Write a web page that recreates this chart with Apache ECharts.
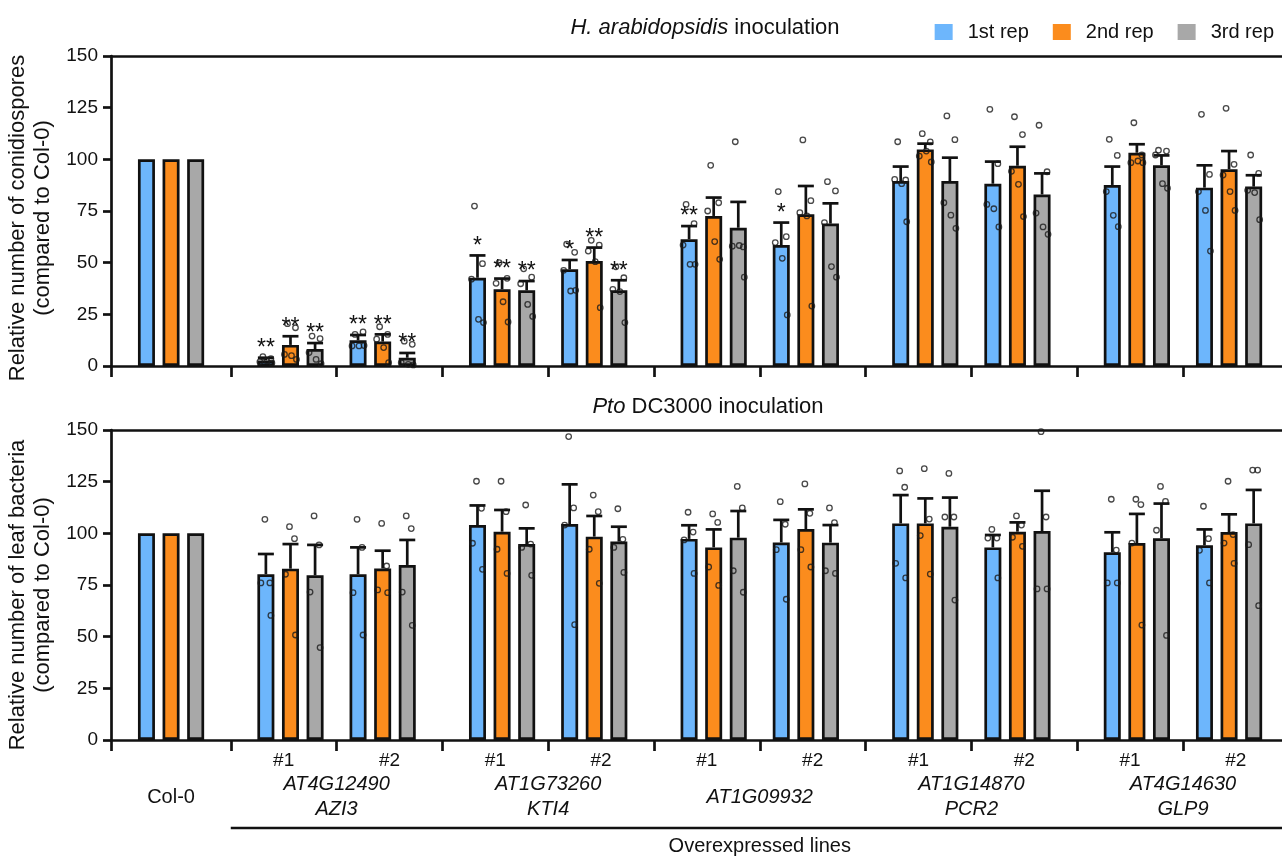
<!DOCTYPE html>
<html>
<head>
<meta charset="utf-8">
<script src="https://cdn.jsdelivr.net/npm/echarts@6/dist/echarts.min.js"></script>
<style>
html,body{margin:0;padding:0;background:#fff;}
#chart{width:1282px;height:856px;}
</style>
</head>
<body>
<div id="chart"></div>
<script>
// ---------------- DATA ----------------
const repNames = ['1st rep', '2nd rep', '3rd rep'];
const groups = ['Col-0', 'AZI3 #1', 'AZI3 #2', 'KTI4 #1', 'KTI4 #2', 'AT1G09932 #1', 'AT1G09932 #2',
                'PCR2 #1', 'PCR2 #2', 'GLP9 #1', 'GLP9 #2'];
const geneLabels = ['Col-0', 'AT4G12490\nAZI3', 'AT1G73260\nKTI4', 'AT1G09932', 'AT1G14870\nPCR2', 'AT4G14630\nGLP9'];
const lineLabels = ['#1', '#2'];
const yTicks = [0, 25, 50, 75, 100, 125, 150];

// H. arabidopsidis: relative number of conidiospores (mean, SEM, individual points, significance)
const haMean1 = [100, 2.7, 12.4, 42.7, 46.8, 61.3, 58.5, 89.5, 88.2, 87.6, 86.3];
const haMean2 = [100, 10.2, 11.8, 37.1, 50.8, 72.6, 73.4, 104.8, 96.9, 103.2, 95.2];
const haMean3 = [100, 8.2, 4.0, 36.6, 36.6, 66.9, 68.9, 89.5, 83.0, 97.1, 86.8];
const haSem1 = [0, 1.3, 2.6, 10.8, 4.5, 6.4, 10.9, 7.0, 10.7, 8.9, 10.8];
const haSem2 = [0, 4.2, 3.5, 5.2, 6.5, 8.9, 13.7, 2.8, 9.2, 4.1, 8.8];
const haSem3 = [0, 2.9, 2.3, 4.5, 4.9, 12.5, 9.8, 11.3, 10.2, 4.8, 5.5];
const haStars1 = ['', '**', '**', '*', '*', '**', '*', '', '', '', ''];
const haStars2 = ['', '**', '**', '**', '**', '', '', '', '', '', ''];
const haStars3 = ['', '**', '**', '**', '**', '', '', '', '', '', ''];
const haDots1 = [[], [4.5, 3.5, 2.0, 2.5, 1.5], [15.3, 16.5, 9.7, 9.7, 9.9], [77.4, 49.5, 42.0, 22.6, 21.0],
  [58.9, 55.0, 46.3, 36.3, 36.6], [78.2, 68.9, 58.5, 49.2, 49.2], [84.4, 62.6, 59.7, 52.1, 24.7],
  [108.5, 90.0, 90.3, 88.2, 69.8], [124.2, 97.9, 78.2, 76.1, 67.3], [109.7, 101.9, 84.4, 72.9, 67.4],
  [121.8, 92.7, 84.4, 75.3, 55.6]];
const haDots2 = [[], [20.5, 18.5, 5.6, 5.0, 3.2], [19.0, 15.3, 13.0, 8.9, 1.6], [50.0, 42.4, 40.0, 31.1, 21.3],
  [60.8, 58.5, 55.6, 50.5, 28.2], [97.1, 79.0, 75.0, 60.2, 51.6], [109.4, 80.0, 74.2, 72.6, 29.0],
  [112.4, 108.4, 101.6, 104.0, 98.7], [120.6, 112.0, 94.2, 87.9, 72.3], [117.7, 102.1, 98.4, 99.2, 98.4],
  [124.7, 97.6, 92.4, 84.4, 75.3]];
const haDots3 = [[], [14.5, 13.2, 6.5, 3.2, 1.1], [12.0, 10.5, 1.6, 0.8, 0.5], [47.0, 43.0, 39.8, 29.8, 24.0],
  [48.0, 42.7, 37.1, 36.0, 21.0], [108.5, 57.6, 58.0, 58.3, 43.0], [89.2, 84.7, 69.4, 48.1, 43.0],
  [121.0, 109.5, 79.0, 73.0, 66.6], [116.5, 94.0, 74.0, 67.3, 63.7], [104.4, 104.0, 102.1, 88.2, 86.0],
  [102.1, 93.2, 85.0, 83.9, 70.8]];

// Pto DC3000: relative number of leaf bacteria
const ptoMean1 = [100, 80.2, 80.2, 104.0, 104.5, 97.3, 95.6, 104.8, 93.2, 90.8, 94.2];
const ptoMean2 = [100, 82.9, 83.0, 100.8, 98.4, 93.2, 102.1, 104.8, 100.8, 95.3, 100.6];
const ptoMean3 = [100, 79.7, 84.7, 94.8, 96.0, 97.9, 95.5, 103.2, 101.1, 97.6, 104.8];
const ptoSem1 = [0, 9.8, 13.0, 9.5, 19.2, 6.6, 10.9, 13.7, 6.0, 9.7, 7.7];
const ptoSem2 = [0, 11.9, 8.6, 10.5, 10.0, 8.7, 9.5, 12.1, 4.5, 14.1, 8.6];
const ptoSem3 = [0, 14.7, 12.1, 7.6, 7.2, 12.9, 8.5, 14.1, 19.5, 16.8, 16.2];
const ptoDots1 = [[], [106.8, 76.0, 76.0, 60.3], [106.8, 93.2, 71.3, 50.8], [125.2, 112.1, 95.2, 82.6],
  [146.8, 112.3, 104.0, 55.8], [110.2, 100.6, 96.8, 80.6], [115.3, 104.4, 92.1, 68.1],
  [130.2, 122.3, 85.5, 78.4], [101.9, 97.7, 97.7, 78.4], [116.5, 91.9, 76.0, 76.0], [113.1, 97.4, 91.8, 76.0]];
const ptoDots2 = [[], [103.2, 97.4, 80.2, 50.8], [104.8, 84.2, 72.6, 71.3], [125.2, 110.5, 92.3, 80.6],
  [118.5, 110.5, 92.3, 75.8], [109.4, 105.3, 83.7, 74.8], [123.9, 109.7, 92.1, 83.7],
  [131.3, 106.9, 98.9, 80.3], [108.4, 104.0, 98.1, 93.7], [116.5, 113.9, 95.3, 55.6], [125.2, 99.4, 95.3, 85.5]];
const ptoDots3 = [[], [108.4, 94.4, 71.6, 44.7], [108.4, 102.3, 71.6, 55.5], [113.7, 94.8, 93.2, 79.7],
  [111.9, 97.1, 93.2, 81.1], [122.7, 112.3, 81.9, 71.5], [112.3, 105.2, 81.9, 80.6],
  [129.0, 107.9, 107.9, 67.7], [149.2, 107.9, 73.1, 73.1], [122.7, 115.5, 101.5, 50.6], [130.6, 130.6, 94.5, 65.0]];

// ---------------- LAYOUT / STYLE ----------------
const FONT = '"Liberation Sans", Arial, Helvetica, sans-serif';
const INK = '#111';
const repColors = ['#6DB6FC', '#FB8C1D', '#A8A8A8'];
const GRID_LEFT = 111, GRID_W = 1171;
const X_MIN = -0.066, X_MAX = 5.468;            // x axis in "gene" units
const UNIT_PX = GRID_W / (X_MAX - X_MIN);
const BAR_W = 17, GAP = 0.447, SPACER_W = 12.7, LINE_W = 2.7;
const colWidths = [BAR_W, BAR_W, BAR_W, SPACER_W, BAR_W, BAR_W, BAR_W];
// replicate the bar layout so that error bars and points sit on their bars
let totalW = 0;
colWidths.forEach(w => { totalW += w * (1 + GAP); });
totalW -= colWidths[colWidths.length - 1] * GAP;
const slotCenter = [];
(function () { let off = -totalW / 2; colWidths.forEach(w => { slotCenter.push(off + w / 2); off += w * (1 + GAP); }); })();
const geneOf = g => Math.ceil(g / 2);
const variantOf = g => (g % 2 === 1 ? 0 : 1);
const slotOf = (g, r) => variantOf(g) * 4 + r;
const JIT = { 5: [-3, 5, -6, 1, 6], 4: [-1, 4, -5, 5] };

const tickVals = [X_MIN];
for (let k = 1; k <= 10; k++) tickVals.push(k / 2);
const lineLabelPos = [], lineLabelTxt = [];
for (let k = 1; k <= 5; k++) { lineLabelPos.push(k - 0.25, k + 0.25); lineLabelTxt.push(lineLabels[0], lineLabels[1]); }
const geneLabelPos = [slotCenter[5] / UNIT_PX, 1, 2, 3, 4, 5];
const nearest = (arr, v) => { let b = 0; arr.forEach((a, i) => { if (Math.abs(a - v) < Math.abs(arr[b] - v)) b = i; }); return b; };

function buildPanel(p, means, sems, dots, stars) {
  const xi = p === 0 ? 0 : 2;
  const out = [];
  [0, 1].forEach(v => {
    for (let r = 0; r < 3; r++) {
      const data = [];
      groups.forEach((name, g) => { if (variantOf(g) === v) data.push([geneOf(g), means[r][g]]); });
      out.push({
        type: 'bar', name: repNames[r], xAxisIndex: xi, yAxisIndex: p, data: data,
        barWidth: BAR_W, barGap: (GAP * 100) + '%', silent: true, z: 2,
        itemStyle: { color: repColors[r], borderColor: INK, borderWidth: LINE_W }
      });
    }
    if (v === 0) out.push({ type: 'bar', name: 'spacer', xAxisIndex: xi, yAxisIndex: p, data: [],
      barWidth: SPACER_W, barGap: (GAP * 100) + '%', silent: true });
  });
  // error bars + significance marks
  const errData = [], errMeta = [];
  groups.forEach((name, g) => {
    for (let r = 0; r < 3; r++) {
      if (sems[r][g] > 0) {
        errData.push([geneOf(g), means[r][g], means[r][g] + sems[r][g]]);
        errMeta.push({ slot: slotOf(g, r), star: stars ? stars[r][g] : '' });
      }
    }
  });
  out.push({
    type: 'custom', xAxisIndex: xi, yAxisIndex: p, data: errData, silent: true, z: 3,
    encode: { x: 0, y: 1 },
    renderItem: function (params, api) {
      const m = errMeta[params.dataIndex];
      const base = api.coord([api.value(0), api.value(1)]);
      const top = api.coord([api.value(0), api.value(2)]);
      const x = base[0] + slotCenter[m.slot];
      const st = { stroke: INK, lineWidth: LINE_W };
      const ch = [
        { type: 'line', shape: { x1: x, y1: base[1], x2: x, y2: top[1] }, style: st },
        { type: 'line', shape: { x1: x - 8, y1: top[1], x2: x + 8, y2: top[1] }, style: st }
      ];
      if (m.star) ch.push({ type: 'text', style: { text: m.star, x: x, y: top[1] - 9, align: 'center',
        verticalAlign: 'middle', fontSize: 23, fontFamily: FONT, fill: INK } });
      return { type: 'group', children: ch };
    }
  });
  // individual points
  const pts = [];
  groups.forEach((name, g) => {
    for (let r = 0; r < 3; r++) {
      const arr = dots[r][g];
      const jit = JIT[arr.length] || [0, 0, 0, 0, 0];
      arr.forEach((val, i) => pts.push({ value: [geneOf(g), val], symbolOffset: [slotCenter[slotOf(g, r)] + jit[i], 0] }));
    }
  });
  out.push({
    type: 'scatter', xAxisIndex: xi, yAxisIndex: p, data: pts, silent: true, z: 4,
    symbol: 'circle', symbolSize: 5.5,
    itemStyle: { color: 'rgba(0,0,0,0)', borderColor: '#1a1a1a', borderWidth: 1.3 }
  });
  return out;
}

const baseX = {
  type: 'value', min: X_MIN, max: X_MAX, splitLine: { show: false },
  axisLine: { show: true, onZero: false, lineStyle: { color: INK, width: LINE_W } }
};
const mainX = gi => Object.assign({}, baseX, {
  gridIndex: gi, position: 'bottom',
  axisTick: { show: true, customValues: tickVals, length: 11, lineStyle: { color: INK, width: LINE_W } }
});
const frameX = gi => Object.assign({}, baseX, {
  gridIndex: gi, position: 'top', axisTick: { show: false }, axisLabel: { show: false }
});
const yAx = (gi, name, shift) => ({
  type: 'value', gridIndex: gi, min: 0, max: 150, interval: 25, splitLine: { show: false },
  axisLine: { show: true, onZero: false, lineStyle: { color: INK, width: LINE_W } },
  axisTick: { show: true, length: 8, lineStyle: { color: INK, width: LINE_W } },
  axisLabel: { fontSize: 19, fontFamily: FONT, color: INK, margin: 13,
    formatter: v => (yTicks.indexOf(v) >= 0 ? String(v) : '') },
  name: name, nameLocation: 'middle', nameGap: 52, nameRotate: 90,
  nameTextStyle: { fontSize: 22, lineHeight: 25, fontFamily: FONT, color: INK, padding: [0, shift, 0, 0] }
});

const top1 = mainX(0); top1.axisLabel = { show: false };
const bot1 = mainX(1);
bot1.axisLabel = { show: true, customValues: lineLabelPos, margin: 11, fontSize: 19, fontFamily: FONT, color: INK,
  formatter: v => lineLabelTxt[nearest(lineLabelPos, v)] };
const geneAxis = Object.assign({}, baseX, {
  gridIndex: 1, position: 'bottom', axisLine: { show: false }, axisTick: { show: false },
  axisLabel: { show: true, customValues: geneLabelPos, margin: 32, color: INK,
    formatter: function (v) {
      const i = nearest(geneLabelPos, v);
      const parts = geneLabels[i].split('\n');
      if (i === 0) return '{c|' + parts[0] + '}';
      if (parts.length === 1) return '{s|' + parts[0] + '}';
      return parts.map(s => '{g|' + s + '}').join('\n');
    },
    rich: {
      c: { fontSize: 20, fontFamily: FONT, color: INK, lineHeight: 50 },
      s: { fontSize: 20, fontFamily: FONT, color: INK, fontStyle: 'italic', lineHeight: 50 },
      g: { fontSize: 20, fontFamily: FONT, color: INK, fontStyle: 'italic', lineHeight: 25 }
    }
  }
});
const overAxis = Object.assign({}, baseX, {
  gridIndex: 1, position: 'bottom', axisLine: { show: false }, axisTick: { show: false },
  axisLabel: { show: true, customValues: [3], margin: 96, fontSize: 20, fontFamily: FONT, color: INK,
    formatter: () => 'Overexpressed lines' }
});

const option = {
  backgroundColor: '#fff',
  animation: false,
  textStyle: { fontFamily: FONT },
  title: [
    { text: '{i|H. arabidopsidis} inoculation', left: 700, top: 12, textAlign: 'center',
      textStyle: { fontSize: 22, fontWeight: 'normal', fontFamily: FONT, color: INK,
        rich: { i: { fontSize: 22, fontStyle: 'italic', fontFamily: FONT, color: INK } } } },
    { text: '{i|Pto} DC3000 inoculation', left: 703, top: 391, textAlign: 'center',
      textStyle: { fontSize: 22, fontWeight: 'normal', fontFamily: FONT, color: INK,
        rich: { i: { fontSize: 22, fontStyle: 'italic', fontFamily: FONT, color: INK } } } }
  ],
  legend: {
    data: repNames, right: 3, top: 17, icon: 'rect', itemWidth: 18, itemHeight: 16, itemGap: 24,
    itemStyle: { borderWidth: 0 },
    textStyle: { fontSize: 20, fontFamily: FONT, color: INK, padding: [0, 0, 0, 10] },
    selectedMode: false
  },
  grid: [
    { left: GRID_LEFT, width: GRID_W, top: 56, height: 310, outerBoundsMode: 'none', containLabel: false },
    { left: GRID_LEFT, width: GRID_W, top: 430, height: 310, outerBoundsMode: 'none', containLabel: false }
  ],
  xAxis: [top1, frameX(0), bot1, frameX(1), geneAxis, overAxis],
  yAxis: [
    yAx(0, 'Relative number of conidiospores\n(compared to Col-0)', 14),
    yAx(1, 'Relative number of leaf bacteria\n(compared to Col-0)', 20)
  ],
  series: [].concat(
    buildPanel(0, [haMean1, haMean2, haMean3], [haSem1, haSem2, haSem3], [haDots1, haDots2, haDots3],
      [haStars1, haStars2, haStars3]),
    buildPanel(1, [ptoMean1, ptoMean2, ptoMean3], [ptoSem1, ptoSem2, ptoSem3], [ptoDots1, ptoDots2, ptoDots3], null)
  )
};

const chart = echarts.init(document.getElementById('chart'), null, { renderer: 'canvas' });
chart.setOption(option);
// bracket under the overexpressed lines, anchored to the axis scale
const bx0 = chart.convertToPixel({ xAxisIndex: 2 }, 0.5);
const bx1 = chart.convertToPixel({ xAxisIndex: 2 }, X_MAX);
chart.setOption({
  graphic: [{ type: 'line', shape: { x1: bx0, y1: 828, x2: bx1, y2: 828 }, style: { stroke: INK, lineWidth: LINE_W }, silent: true }]
});
</script>
</body>
</html>
